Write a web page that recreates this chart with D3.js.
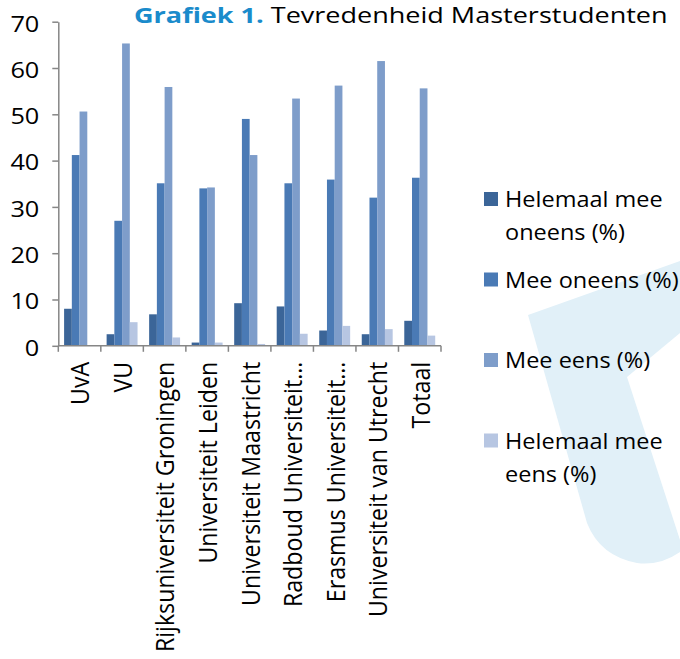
<!DOCTYPE html>
<html><head><meta charset="utf-8">
<script src="https://cdn.jsdelivr.net/npm/d3@7"></script>
<style>
body{margin:0;background:#fff}
svg{display:block}
text{font-family:"Open Sans",sans-serif;fill:#000}
</style>
</head><body>
<svg id="c" width="680" height="659"></svg>
<script>
// ---- data ----
const categories = ["UvA","VU","Rijksuniversiteit Groningen","Universiteit Leiden","Universiteit Maastricht","Radboud Universiteit…","Erasmus Universiteit…","Universiteit van Utrecht","Totaal"];
const seriesNames = ["Helemaal mee oneens (%)","Mee oneens (%)","Mee eens (%)","Helemaal mee eens (%)"];
const helemaalMeeOneens = [8.0, 2.5, 6.8, 0.7, 9.2, 8.5, 3.3, 2.5, 5.4];
const meeOneens        = [41.2, 27.0, 35.1, 34.0, 49.0, 35.1, 35.9, 32.0, 36.3];
const meeEens          = [50.6, 65.3, 55.9, 34.2, 41.2, 53.4, 56.2, 61.5, 55.6];
const helemaalMeeEens  = [0.0, 5.1, 1.8, 0.7, 0.4, 2.6, 4.3, 3.6, 2.2];
const yTicks = [0, 10, 20, 30, 40, 50, 60, 70];
const titleBold = "Grafiek 1.";
const titleRest = " Tevredenheid Masterstudenten";

// ---- style ----
const colors = ["#3b6598", "#4a7ab5", "#7e9dca", "#b7c6e2"];
const axisColor = "#868686";
const SX = 1.12; // horizontal glyph stretch
const FS = 21;
const YFS = 22;
const XFS = 23.2, XSX = 1.08;

const svg = d3.select("#c");

// background logo shape
svg.append("path")
  .attr("d", "M528,315 L680,261 L680,333 L627,377 L680,540 L680,552 Q660,566 637,563 Q600,556 587,523 Z")
  .attr("fill", "#e1f0f8");

const values = [helemaalMeeOneens, meeOneens, meeEens, helemaalMeeEens];
const rows = categories.map((c, i) => ({cat: c, vals: values.map(v => v[i])}));

const x = d3.scaleBand().domain(categories).range([58.3, 441]).paddingInner(0).paddingOuter(0);
const xs = d3.scaleBand().domain(seriesNames).range([0, x.bandwidth()]).paddingInner(0).paddingOuter(0.75);
const y = d3.scaleLinear().domain([0, 70]).range([345.8, 21.7]);

// bars
const g = svg.append("g");
g.selectAll("g.cat").data(rows).join("g")
  .attr("class", "cat")
  .attr("transform", d => `translate(${x(d.cat)},0)`)
  .selectAll("rect").data(d => d.vals.map((v, k) => ({k, v}))).join("rect")
  .attr("x", d => xs(seriesNames[d.k]))
  .attr("width", xs.bandwidth())
  .attr("y", d => y(d.v))
  .attr("height", d => y(0) - y(d.v))
  .attr("fill", d => colors[d.k]);

// y axis
const yAxis = svg.append("g").attr("transform", `translate(${x.range()[0]},0)`)
  .call(d3.axisLeft(y).tickValues(yTicks).tickSize(6).tickSizeOuter(0));
yAxis.select(".domain").attr("stroke", axisColor).attr("stroke-width", 1.5);
yAxis.selectAll(".tick line").attr("stroke", axisColor).attr("stroke-width", 1.5);
yAxis.selectAll(".tick text")
  .attr("x", null).attr("dy", null)
  .attr("transform", `translate(-19,1) scale(1.15,1)`)
  .attr("dominant-baseline", "central")
  .attr("font-size", YFS).attr("font-family", "'Open Sans',sans-serif").attr("fill", "#000");

// x axis
const x0 = x.range()[0], x1 = x.range()[1];
const bounds = categories.map(c => x(c)).concat([x1]);
const xAxis = svg.append("g");
xAxis.append("line").attr("x1", x0).attr("x2", x1).attr("y1", y(0)).attr("y2", y(0))
  .attr("stroke", axisColor).attr("stroke-width", 1.5);
xAxis.selectAll("line.t").data(bounds).join("line").attr("class", "t")
  .attr("x1", d => d).attr("x2", d => d).attr("y1", y(0)).attr("y2", y(0) + 6)
  .attr("stroke", axisColor).attr("stroke-width", 1.5);
xAxis.selectAll("text").data(categories).join("text")
  .attr("transform", d => `translate(${x(d) + x.bandwidth() / 2},${y(0) + 16}) scale(${XSX},1) rotate(-90)`)
  .attr("text-anchor", "end")
  .attr("dominant-baseline", "central")
  .attr("font-size", XFS)
  .text(d => d);

// title (fitted to the reference width)
const title = svg.append("text")
  .attr("font-size", FS)
  .attr("text-anchor", "start");
title.append("tspan").attr("font-weight", "bold").attr("fill", "#1a8bcb").text(titleBold);
title.append("tspan").attr("fill", "#000").text(titleRest);
const tw = title.node().getComputedTextLength();
title.attr("transform", `translate(134,22.5) scale(${534 / tw},1)`);

// legend
const legend = svg.append("g");
const maxW = 186 / SX;
const meas = svg.append("text").attr("font-size", FS).attr("visibility", "hidden");
function wrap(s) {
  const words = s.split(" "), lines = [];
  let cur = "";
  words.forEach(w => {
    const t = cur ? cur + " " + w : w;
    meas.text(t);
    if (cur && meas.node().getComputedTextLength() > maxW) { lines.push(cur); cur = w; }
    else cur = t;
  });
  lines.push(cur);
  return lines;
}
seriesNames.forEach((s, i) => {
  const cy = 199 + i * 80.5;
  legend.append("rect").attr("x", 484).attr("y", cy - 7).attr("width", 14).attr("height", 14)
    .attr("fill", colors[i]);
  wrap(s).forEach((ln, j) => {
    legend.append("text")
      .attr("transform", `translate(505,${cy + j * 33}) scale(${SX},1)`)
      .attr("dominant-baseline", "central")
      .attr("font-size", FS)
      .text(ln);
  });
});
meas.remove();
</script>
</body></html>
